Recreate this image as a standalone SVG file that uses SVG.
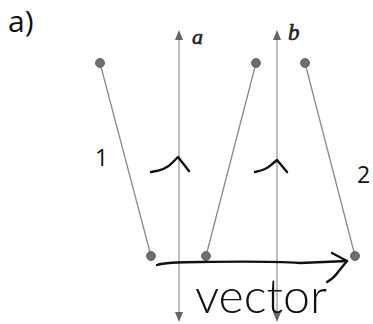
<svg xmlns="http://www.w3.org/2000/svg" width="373" height="324" viewBox="0 0 373 324">
<style>
.axis{stroke:#9a9a9a;stroke-width:1.3;fill:none}
.rod{stroke:#8a8a8a;stroke-width:1.3;fill:none}
.dot{fill:#6e6e6e;stroke:#555;stroke-width:0.8}
.head{fill:#666}
.hand{stroke:#111;stroke-width:2.4;fill:none;stroke-linecap:round;stroke-linejoin:round}
.lbl{font-family:"Open Sans","Liberation Sans",sans-serif;fill:#111}
.ax{font-family:"Liberation Serif",serif;font-style:italic;fill:#222;stroke:#222;stroke-width:0.6}
</style>
<rect width="373" height="324" fill="#fff"/>
<text class="lbl" x="8" y="32" font-size="30">a)</text>
<g id="axes">
<g id="axis-a">
<line class="axis" x1="179" y1="40" x2="179" y2="312"/>
<path class="head" d="M175,40 L179,30 L183,40 Z"/>
<path class="head" d="M175,312 L179,322 L183,312 Z"/>
<text class="ax" x="192" y="44" font-size="22">a</text>
</g>
<g id="axis-b">
<line class="axis" x1="277" y1="40" x2="277" y2="312"/>
<path class="head" d="M273,40 L277,30 L281,40 Z"/>
<path class="head" d="M273,312 L277,322 L281,312 Z"/>
<text class="ax" x="288" y="40" font-size="23">b</text>
</g>
</g>
<g id="connectors">
<line class="rod" x1="100" y1="63" x2="151" y2="256"/>
<line class="rod" x1="256" y1="63" x2="206" y2="256"/>
<line class="rod" x1="305" y1="63" x2="355" y2="256"/>
</g>
<g id="rod1">
<circle class="dot" cx="100" cy="63" r="4.5"/>
<circle class="dot" cx="151" cy="256" r="4.5"/>
<text class="lbl" x="95" y="166" font-size="23">1</text>
</g>
<g id="rod-mid">
<circle class="dot" cx="256" cy="63" r="4.5"/>
<circle class="dot" cx="206" cy="256" r="4.5"/>
</g>
<g id="rod2">
<circle class="dot" cx="305" cy="63" r="4.5"/>
<circle class="dot" cx="355" cy="256" r="4.5"/>
<text class="lbl" x="357" y="183" font-size="23">2</text>
</g>
<g id="marks">
<path class="hand" d="M151,172 Q166,170 172,163 L178,157 L189,171"/>
<path class="hand" d="M255,172 Q266,170 271,165 L277,160 L287,172"/>
</g>
<g id="vector">
<path class="hand" d="M157,265 Q165,262 200,262 Q270,261 300,263 Q325,262 347,261"/>
<path class="hand" d="M332,253 L347,261 L338,272 Q334,278 327,282"/>
<text x="195" y="313" font-family="Lato,'Open Sans',sans-serif" font-weight="300" font-size="48" fill="#111" textLength="132" lengthAdjust="spacingAndGlyphs">vector</text>
</g>
</svg>
